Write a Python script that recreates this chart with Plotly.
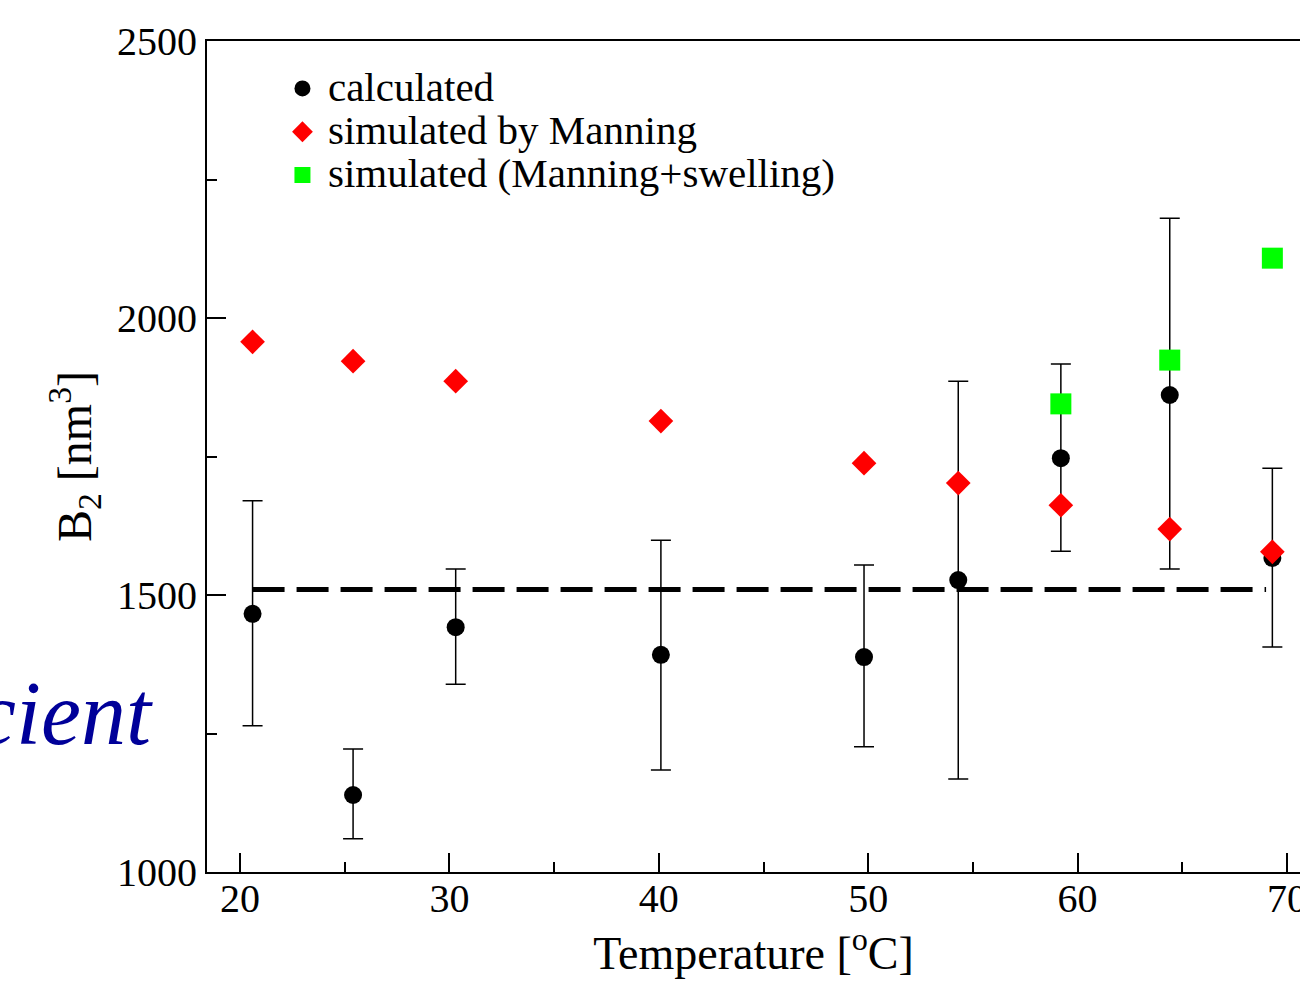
import plotly.graph_objects as go

# Data
temp_calc = [20.6, 25.4, 30.3, 40.1, 49.8, 54.3, 59.2, 64.4, 69.3]
b2_calc = [1466, 1139, 1442, 1392, 1388, 1527, 1747, 1861, 1567]
b2_calc_hi = [1670, 1222, 1547, 1599, 1554, 1886, 1917, 2180, 1729]
b2_calc_lo = [1264, 1060, 1339, 1184, 1226, 1168, 1579, 1547, 1406]

temp_manning = [20.6, 25.4, 30.3, 40.1, 49.8, 54.3, 59.2, 64.4, 69.3]
b2_manning = [1957, 1922, 1886, 1814, 1738, 1702, 1662, 1619, 1578]

temp_swell = [59.2, 64.4, 69.3]
b2_swell = [1845, 1924, 2108]

ref_x = [20.6, 69.0]
ref_y = [1510, 1510]

series_names = ["calculated", "simulated by Manning", "simulated (Manning+swelling)"]

err_plus = [h - v for h, v in zip(b2_calc_hi, b2_calc)]
err_minus = [v - l for v, l in zip(b2_calc, b2_calc_lo)]

FONT = "Liberation Serif"


def big(t):
    return '<span style="font-size:41px">' + t + '</span>'


fig = go.Figure()

fig.add_trace(go.Scatter(
    x=ref_x, y=ref_y, mode="lines", showlegend=False,
    line=dict(color="black", width=5, dash="32px,12px"), hoverinfo="skip"))

fig.add_trace(go.Scatter(
    x=temp_calc, y=b2_calc, mode="markers", name=big(series_names[0]),
    marker=dict(symbol="circle", size=18, color="black"),
    error_y=dict(type="data", symmetric=False, array=err_plus, arrayminus=err_minus,
                 color="black", thickness=1.5, width=10)))

fig.add_trace(go.Scatter(
    x=temp_manning, y=b2_manning, mode="markers", name=big(series_names[1]),
    marker=dict(symbol="diamond", size=19, color="#ff0000")))

fig.add_trace(go.Scatter(
    x=temp_swell, y=b2_swell, mode="markers", name=big(series_names[2]),
    marker=dict(symbol="square", size=21, color="#00ff00")))

fig.update_layout(
    width=1300, height=988,
    margin=dict(l=207, r=0, t=41, b=116, autoexpand=False),
    paper_bgcolor="white", plot_bgcolor="white",
    font=dict(family=FONT, size=40, color="black"),
    showlegend=True,
    legend=dict(x=0.064, y=0.975, xanchor="left", yanchor="top",
                bgcolor="rgba(0,0,0,0)", font=dict(family=FONT, size=31),
                tracegroupgap=0, itemsizing="trace", itemwidth=41),
    xaxis=dict(range=[18.424, 70.62], showgrid=False, zeroline=False, automargin=False,
               showline=True, linecolor="black", linewidth=2, mirror=True,
               ticks="inside", ticklen=19, tickwidth=1.5, tickcolor="black",
               tickvals=[20, 30, 40, 50, 60, 70], ticklabeloverflow="allow",
               ticklabelstandoff=-10,
               minor=dict(dtick=5, tick0=0, ticks="inside", ticklen=10, tickwidth=1.5, tickcolor="black"),
               tickfont=dict(family=FONT, size=40),
               title=dict(text="Temperature [<sup>o</sup>C]", font=dict(family=FONT, size=46), standoff=0)),
    yaxis=dict(range=[1000, 2500], showgrid=False, zeroline=False, automargin=False,
               showline=True, linecolor="black", linewidth=2, mirror=False,
               ticks="inside", ticklen=19, tickwidth=1.5, tickcolor="black",
               tickvals=[1000, 1500, 2000, 2500],
               minor=dict(dtick=250, tick0=0, ticks="inside", ticklen=10, tickwidth=1.5, tickcolor="black"),
               tickfont=dict(family=FONT, size=40),
               title=dict(text="B<sub>2</sub> [nm<sup>3</sup>]", font=dict(family=FONT, size=48), standoff=10)),
)

fig.add_annotation(
    text="<i>cient</i>", xref="paper", yref="paper", x=-0.0476, y=0.191,
    xanchor="right", yanchor="middle", showarrow=False,
    font=dict(family=FONT, size=90, color="#000099", style="italic"))

fig.write_html("out.html")
